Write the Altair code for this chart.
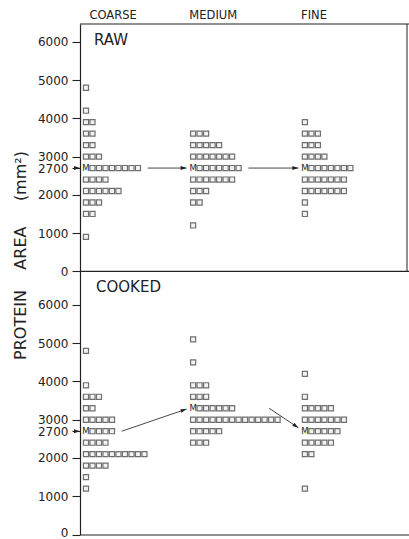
import math
import altair as alt
import pandas as pd

# ---------------- data ----------------
levels = [5100, 4800, 4500, 4200, 3900, 3600, 3300, 3000, 2700, 2400, 2100, 1800, 1500, 1200, 900]
# number of squares per level (the median sample is drawn as "M" and not counted here)
raw_coarse    = [0, 1, 0, 1, 2, 2, 2, 3, 8, 4, 6, 3, 2, 0, 1]
raw_medium    = [0, 0, 0, 0, 0, 3, 5, 7, 7, 7, 3, 2, 0, 1, 0]
raw_fine      = [0, 0, 0, 0, 1, 3, 3, 4, 7, 7, 7, 1, 1, 0, 0]
cooked_coarse = [0, 1, 0, 0, 1, 3, 2, 5, 4, 4, 10, 4, 1, 1, 0]
cooked_medium = [1, 0, 1, 0, 3, 3, 6, 14, 5, 3, 0, 0, 0, 0, 0]
cooked_fine   = [0, 0, 0, 1, 0, 1, 5, 7, 5, 5, 2, 0, 0, 1, 0]
columns = ["COARSE", "MEDIUM", "FINE"]
raw_medians = [2700, 2700, 2700]
cooked_medians = [2700, 3300, 2700]
panels = ["RAW", "COOKED"]
tick_values = [0, 1000, 2000, 2700, 3000, 4000, 5000, 6000]
y_title = "PROTEIN\u00a0\u00a0\u00a0\u00a0AREA\u00a0\u00a0\u00a0\u00a0\u00a0(mm\u00b2)"

# ---------------- layout constants ----------------
PLOT_W, PLOT_H = 329, 510.5
PITCH = 6.5                      # px per square slot
X_MAX = PLOT_W / PITCH
X_RIGHT = 327 / PITCH            # right edge of the upper frame
COL_BASE = [0.92, 17.4, 34.6]    # slot of the first mark in each column
HEAD_X = [5.1, 20.5, 36.0]
OFF = 6880                       # raw panel sits above the cooked panel
Y_TOP = 13346
PXY = PLOT_H / Y_TOP             # px per y unit
FONT = "DejaVu Sans"
INK = "#222222"

# ---------------- build tables ----------------
sq_rows, m_rows = [], []
groups = [(raw_coarse, raw_medium, raw_fine), (cooked_coarse, cooked_medium, cooked_fine)]
medians = [raw_medians, cooked_medians]
offsets = [OFF, 0]
for p in range(2):
    for c in range(3):
        counts = groups[p][c]
        med = medians[p][c]
        for lv, n in zip(levels, counts):
            start = 0
            if lv == med:
                m_rows.append({"x": COL_BASE[c], "y": lv + offsets[p]})
                start = 1
            for i in range(n):
                sq_rows.append({"x": COL_BASE[c] + start + i, "y": lv + offsets[p]})
squares = pd.DataFrame(sq_rows)
mdf = pd.DataFrame(m_rows)

# arrows between medians: (panel, from col, to col, start gap, from value, to value)
arrow_specs = [
    (0, 0, 1, 1.5, 2700, 2700),
    (0, 1, 2, 1.5, 2700, 2700),
    (1, 0, 1, 1.5, 2700, 3280),
    (1, 1, 2, 5.7, 3300, 2790),
]
arr_rows = []
for p, c1, c2, gap, v1, v2 in arrow_specs:
    counts = groups[p][c1]
    nmed = counts[levels.index(medians[p][c1])]
    x1 = COL_BASE[c1] + nmed + gap
    x2 = COL_BASE[c2] - 1.0
    y1 = v1 + offsets[p]
    y2 = v2 + offsets[p]
    ang = math.degrees(math.atan2(-(y2 - y1) * PXY, (x2 - x1) * PITCH)) % 360
    arr_rows.append({"x": x1, "x2": x2, "y": y1, "y2": y2, "angle": ang})
arrows = pd.DataFrame(arr_rows)
axis_arrows = pd.DataFrame({"x": [0.0, 0.0], "y": [2700 + OFF, 2700], "angle": [0.0, 0.0]})

frame = pd.DataFrame({"x": [0, 0], "x2": [X_MAX, X_MAX], "y": [Y_TOP, OFF]})
side = pd.DataFrame({"x": [X_RIGHT], "y": [OFF], "y2": [Y_TOP]})
heads = pd.DataFrame({"x": HEAD_X, "y": [Y_TOP + 5.5 / PXY] * 3, "t": columns})
plabels = pd.DataFrame({"x": [2.15, 2.46], "y": [5918 + OFF, 6335], "t": panels})

# ---------------- scales / axes ----------------
xs = alt.Scale(domain=[0, X_MAX], nice=False, zero=False)
ys = alt.Scale(domain=[0, Y_TOP], nice=False, zero=False)
xaxis = alt.Axis(ticks=False, labels=False, domain=True, grid=False, title=None,
                 domainColor=INK, domainWidth=1.2)
yvals = tick_values + [v + OFF for v in tick_values]
yaxis = alt.Axis(values=yvals, grid=False, labelOverlap=False, labelBound=False,
                 labelExpr=f"format(datum.value >= {OFF} ? datum.value - {OFF} : datum.value, 'd')",
                 labelOffset={"condition": {"test": "datum.value === 0", "value": -2}, "value": 0},
                 tickSize=8, tickColor=INK, tickWidth=1.1, labelPadding=4,
                 domainColor=INK, domainWidth=1.2,
                 labelFont=FONT, labelFontSize=12, labelColor=INK,
                 title=y_title, titleFont=FONT, titleFontSize=16, titleFontWeight="normal",
                 titleColor=INK, titleX=-60, titleY=231, titleAngle=270,
                 titleAlign="center", titleBaseline="middle")

def X(f="x"):
    return alt.X(f"{f}:Q", scale=xs, axis=xaxis)

def Y(f="y"):
    return alt.Y(f"{f}:Q", scale=ys, axis=yaxis)

ARROW = "M0,0L-2,-0.65L-2,0.65Z"

sq_layer = alt.Chart(squares).mark_square(size=26, filled=True, fill="#eeeeee",
                                          stroke="#333333", strokeWidth=1.2).encode(x=X(), y=Y())
m_layer = alt.Chart(mdf).mark_text(text="M", font=FONT, fontSize=8.5, color=INK,
                                   align="center", baseline="middle").encode(x=X(), y=Y())
frame_layer = alt.Chart(frame).mark_rule(color=INK, strokeWidth=1.2).encode(
    x=X(), x2="x2:Q", y=Y())
side_layer = alt.Chart(side).mark_rule(color=INK, strokeWidth=1.0).encode(
    x=X(), y=Y(), y2="y2:Q")
arrow_lines = alt.Chart(arrows).mark_rule(color="#333333", strokeWidth=0.9).encode(
    x=X(), x2="x2:Q", y=Y(), y2="y2:Q")
arrow_heads = alt.Chart(arrows).mark_point(shape=ARROW, size=36, filled=True,
                                           color="#222222", opacity=1).encode(
    x=X("x2"), y=Y("y2"), angle=alt.Angle("angle:Q", scale=None))
axis_heads = alt.Chart(axis_arrows).mark_point(shape=ARROW, size=36, filled=True,
                                               color="#222222", opacity=1).encode(
    x=X(), y=Y(), angle=alt.Angle("angle:Q", scale=None))
head_layer = alt.Chart(heads).mark_text(font=FONT, fontSize=11.5, color=INK,
                                        align="center", baseline="alphabetic").encode(
    x=X(), y=Y(), text="t:N")
plabel_layer = alt.Chart(plabels).mark_text(font=FONT, fontSize=15, color=INK,
                                            align="left", baseline="alphabetic").encode(
    x=X(), y=Y(), text="t:N")

chart = alt.layer(frame_layer, side_layer, arrow_lines, arrow_heads, axis_heads, sq_layer,
                  m_layer, head_layer, plabel_layer).properties(
    width=PLOT_W, height=PLOT_H,
    autosize=alt.AutoSizeParams(type="none"),
    padding={"left": 80, "top": 24, "right": 0, "bottom": 4.5},
    background="white",
).configure_view(stroke=None)

chart.save("out.html", embed_options={"renderer": "svg", "actions": False})
